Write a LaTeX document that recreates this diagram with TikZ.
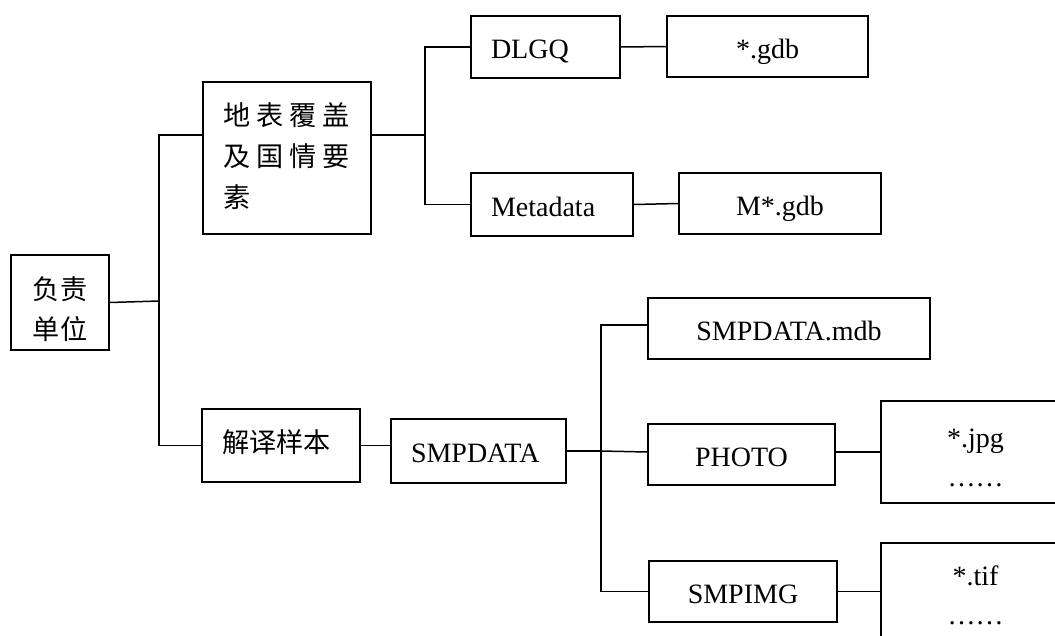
\documentclass[tikz,border=0pt]{standalone}
\usepackage{fontspec}
\setmainfont{Liberation Serif}
\newfontfamily\cjk[Scale=0.97]{Noto Sans CJK SC}
\newcommand{\gap}{\kern6pt}
\tikzset{
  box/.style  = {draw, line width=1.5pt, inner sep=0pt, font=\fontsize{28}{41}\selectfont},
  lbox/.style = {box, align=left, inner xsep=20pt},
  cbox/.style = {box, align=center},
  one/.style  = {text height=41.5pt, text depth=18.5pt},
  link/.style = {line width=1.5pt},
}
\begin{document}
\begin{tikzpicture}[x=1pt, y=-1pt]
        \useasboundingbox (0,0) rectangle (1055,635);
        \clip (0,0) rectangle (1055,635);
        \node[cbox, minimum width=98pt,  minimum height=95pt, text height=76.8pt, text depth=3.2pt]  (fzdw)   at ( 60,302.5) {\cjk 负责\\[-1pt]\cjk 单位};
        \node[lbox, text width=128pt,    minimum height=152pt, text height=17.3pt, text depth=82.7pt] (dbfg)   at (287,158)   {\cjk 地\gap 表\gap 覆\gap 盖\\\cjk 及\gap 国\gap 情\gap 要\\\cjk 素};
        \node[lbox, one, text width=109pt, minimum height=62pt]  (dlgq)   at (545.5,47)  {DLGQ};
        \node[cbox, one, minimum width=201pt, minimum height=61pt]  (gdb)    at (767.5,46.5) {*.gdb};
        \node[lbox, one, text width=122pt, minimum height=63pt]  (meta)   at (552,204.5) {Metadata};
        \node[cbox, one, minimum width=202pt, minimum height=61pt]  (mgdb)   at (780,203.5) {M*.gdb};
        \node[lbox, text width=118pt, minimum height=73pt, text height=36.8pt, text depth=23.2pt]  (jyyb)   at (281,445.5) {\cjk 解译样本};
        \node[lbox, one, text width=135pt, minimum height=64pt]  (smpd)   at (478.5,451) {SMPDATA};
        \node[cbox, one, minimum width=282pt, minimum height=61pt]  (mdb)    at (789,328.5) {SMPDATA.mdb};
        \node[cbox, one, minimum width=187pt, minimum height=61pt]  (photo)  at (741.5,454.5) {PHOTO};
        \node[cbox, one, minimum width=188pt, minimum height=61pt]  (smpimg) at (743,591.5) {SMPIMG};
        \node[cbox, minimum width=189pt, minimum height=102pt, text height=74pt, text depth=6pt] (jpg) at (975.5,452) {*.jpg\\[-2pt]……};
        \node[cbox, minimum width=189pt, minimum height=102pt, text height=70pt, text depth=10pt] (tif) at (975.5,594) {*.tif\\[-2pt]……};
        \coordinate (t1) at (159,301);
        \coordinate (t2) at (425,135);
        \coordinate (t3) at (601,451);
        \draw[link] (fzdw.east) -- (t1);
        \draw[link] ([yshift=23pt]dbfg.west) -| (t1) |- (jyyb.west);
        \draw[link] ([yshift=23pt]dbfg.east) -- (t2);
        \draw[link] (dlgq.west) -| (t2) |- (meta.west);
        \draw[link] (dlgq.east) -- (gdb.west);
        \draw[link] (meta.east) -- (mgdb.west);
        \draw[link] (jyyb.east) -- (jyyb.east -| smpd.west);
        \draw[link] (smpd.east) -- (t3);
        \draw[link] ([yshift=3.5pt]mdb.west) -| (t3) |- (smpimg.west);
        \draw[link] (t3) -- ([yshift=2.5pt]photo.west);
        \draw[link] ([yshift=2.5pt]photo.east) -- (jpg.west);
        \draw[link] (smpimg.east) -- (smpimg.east -| tif.west);
\end{tikzpicture}
\end{document}
